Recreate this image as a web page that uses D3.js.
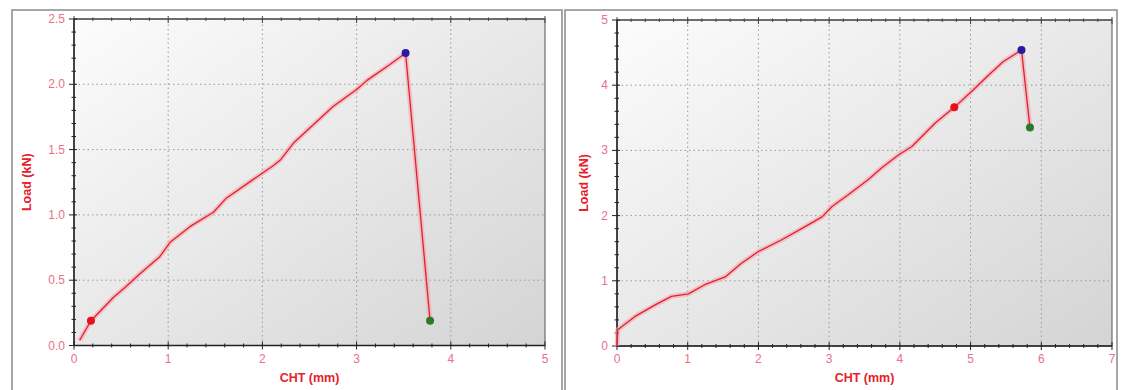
<!DOCTYPE html>
<html>
<head>
<meta charset="utf-8">
<script src="https://cdn.jsdelivr.net/npm/d3@7"></script>
<style>
  body { margin: 0; background: #fff; }
  text { font-family: "Liberation Sans", Arial, sans-serif; }
</style>
</head>
<body>
<svg id="chart" width="1129" height="390"></svg>
<script>
// left test: CHT (mm) vs Load (kN)
const leftCht = [0.06, 0.1, 0.14, 0.18, 0.3, 0.42, 0.55, 0.7, 0.91, 1.02, 1.23, 1.48, 1.62, 1.9, 2.12, 2.19, 2.33, 2.54, 2.75, 3.0, 3.11, 3.35, 3.52, 3.78]
const leftLoad = [0.04, 0.09, 0.14, 0.19, 0.28, 0.37, 0.45, 0.55, 0.68, 0.79, 0.91, 1.02, 1.13, 1.27, 1.38, 1.42, 1.55, 1.69, 1.83, 1.96, 2.03, 2.15, 2.24, 0.19]
const leftMarks = [[0.18, 0.19], [3.52, 2.24], [3.78, 0.19]]

// right test
const rightCht = [0.0, 0.01, 0.25, 0.54, 0.77, 1.01, 1.24, 1.53, 1.76, 2.0, 2.33, 2.61, 2.9, 3.04, 3.27, 3.55, 3.74, 3.98, 4.17, 4.5, 4.77, 5.04, 5.23, 5.46, 5.72, 5.84]
const rightLoad = [0.0, 0.25, 0.45, 0.63, 0.76, 0.8, 0.94, 1.06, 1.27, 1.45, 1.63, 1.8, 1.98, 2.14, 2.32, 2.55, 2.73, 2.93, 3.06, 3.42, 3.66, 3.93, 4.13, 4.36, 4.54, 3.35]
const rightMarks = [[4.77, 3.66], [5.72, 4.54], [5.84, 3.35]]

const leftYTicks = ['0.0', '0.5', '1.0', '1.5', '2.0', '2.5']
const rightYTicks = ['0', '1', '2', '3', '4', '5']

const markColors = ['#e8101c', '#2a1aa0', '#2a7a2a']
const lineColor = '#e3202a'
const labelColor = '#e8708c'
const titleColor = '#e8202a'

const svg = d3.select('#chart')

const defs = svg.append('defs')
const grad = defs.append('linearGradient')
  .attr('id', 'bg').attr('x1', 0).attr('y1', 0).attr('x2', 1).attr('y2', 1)
grad.append('stop').attr('offset', '0%').attr('stop-color', '#fcfcfc')
grad.append('stop').attr('offset', '100%').attr('stop-color', '#d4d4d4')

const drawPanel = (cfg) => {
  const g = svg.append('g')

  // outer frame
  g.append('rect')
    .attr('x', cfg.frame[0]).attr('y', cfg.frame[1])
    .attr('width', cfg.frame[2] - cfg.frame[0]).attr('height', 400)
    .attr('fill', '#fff').attr('stroke', '#8a8a8a').attr('stroke-width', 1.5)

  const x = d3.scaleLinear().domain([0, cfg.xMax]).range(cfg.xr)
  const y = d3.scaleLinear().domain([0, cfg.yMax]).range(cfg.yr)

  g.append('rect')
    .attr('x', cfg.xr[0]).attr('y', cfg.yr[1])
    .attr('width', cfg.xr[1] - cfg.xr[0]).attr('height', cfg.yr[0] - cfg.yr[1])
    .attr('fill', 'url(#bg)')

  const xMajor = d3.range(0, cfg.xMax + 0.001, 1)
  const yMajor = cfg.yTicks.map(Number)
  const xMinor = d3.range(0, cfg.xMax + 0.001, 0.2)
  const yMinor = d3.range(0, cfg.yMax + 0.001, cfg.yMinorStep)

  // dotted grid
  g.selectAll('.gx').data(xMajor.slice(1, -1)).enter().append('line')
    .attr('x1', d => x(d)).attr('x2', d => x(d))
    .attr('y1', cfg.yr[0]).attr('y2', cfg.yr[1])
    .attr('stroke', '#999').attr('stroke-dasharray', '1.5,3')
  g.selectAll('.gy').data(yMajor.slice(1, -1)).enter().append('line')
    .attr('y1', d => y(d)).attr('y2', d => y(d))
    .attr('x1', cfg.xr[0]).attr('x2', cfg.xr[1])
    .attr('stroke', '#999').attr('stroke-dasharray', '1.5,3')

  // plot border
  g.append('rect')
    .attr('x', cfg.xr[0]).attr('y', cfg.yr[1])
    .attr('width', cfg.xr[1] - cfg.xr[0]).attr('height', cfg.yr[0] - cfg.yr[1])
    .attr('fill', 'none').attr('stroke', '#555').attr('stroke-width', 1)

  // axis lines
  g.append('line').attr('x1', cfg.xr[0]).attr('x2', cfg.xr[1])
    .attr('y1', cfg.yr[0]).attr('y2', cfg.yr[0]).attr('stroke', '#222').attr('stroke-width', 1.5)
  g.append('line').attr('x1', cfg.xr[0]).attr('x2', cfg.xr[0])
    .attr('y1', cfg.yr[0]).attr('y2', cfg.yr[1]).attr('stroke', '#222').attr('stroke-width', 1.5)
  g.append('line').attr('x1', cfg.xr[0]).attr('x2', cfg.xr[1])
    .attr('y1', cfg.yr[1]).attr('y2', cfg.yr[1]).attr('stroke', '#333').attr('stroke-width', 1)

  const isMajor = v => Math.abs(v - Math.round(v)) < 0.001

  // x ticks bottom and top
  g.selectAll('.tx').data(xMinor).enter().append('line')
    .attr('x1', d => x(d)).attr('x2', d => x(d))
    .attr('y1', d => cfg.yr[0] - (isMajor(d) ? 4 : 2))
    .attr('y2', d => cfg.yr[0] + (isMajor(d) ? 4 : 2))
    .attr('stroke', '#222')
  g.selectAll('.tt').data(xMinor).enter().append('line')
    .attr('x1', d => x(d)).attr('x2', d => x(d))
    .attr('y1', d => cfg.yr[1] - (isMajor(d) ? 3 : 1.5))
    .attr('y2', d => cfg.yr[1] + (isMajor(d) ? 4 : 2))
    .attr('stroke', '#444')
  // y ticks
  const yMaj = v => yMajor.some(t => Math.abs(t - v) < 0.001)
  g.selectAll('.ty').data(yMinor).enter().append('line')
    .attr('y1', d => y(d)).attr('y2', d => y(d))
    .attr('x1', d => cfg.xr[0] - (yMaj(d) ? 5 : 2.5))
    .attr('x2', d => cfg.xr[0] + (yMaj(d) ? 3 : 2))
    .attr('stroke', '#222')

  // tick labels
  g.selectAll('.lx').data(xMajor).enter().append('text')
    .attr('x', d => x(d)).attr('y', cfg.yr[0] + 17)
    .attr('text-anchor', 'middle').attr('font-size', 12)
    .attr('fill', labelColor).text(d => d)
  g.selectAll('.ly').data(cfg.yTicks).enter().append('text')
    .attr('x', cfg.xr[0] - 9).attr('y', d => y(+d) + 4)
    .attr('text-anchor', 'end').attr('font-size', 12)
    .attr('fill', labelColor).text(d => d)

  // axis titles
  g.append('text')
    .attr('x', (cfg.xr[0] + cfg.xr[1]) / 2).attr('y', 382)
    .attr('text-anchor', 'middle').attr('font-size', 12.5).attr('font-weight', 'bold')
    .attr('fill', titleColor).text('CHT (mm)')
  g.append('text')
    .attr('transform', `translate(${cfg.titleX}, ${(cfg.yr[0] + cfg.yr[1]) / 2}) rotate(-90)`)
    .attr('text-anchor', 'middle').attr('font-size', 12.5).attr('font-weight', 'bold')
    .attr('fill', titleColor).text('Load (kN)')

  const pts = cfg.cx.map((v, i) => [v, cfg.ld[i]])
  const line = d3.line().x(d => x(d[0])).y(d => y(d[1]))

  // pink halo under the curve
  g.append('path').datum(pts).attr('d', line)
    .attr('fill', 'none').attr('stroke', '#f4a6b0').attr('stroke-width', 5)
    .attr('stroke-opacity', 0.6).attr('stroke-linejoin', 'round')
  g.append('path').datum(pts).attr('d', line)
    .attr('fill', 'none').attr('stroke', lineColor).attr('stroke-width', 1.3)
    .attr('stroke-linejoin', 'round')

  g.selectAll('.mk').data(cfg.marks).enter().append('circle')
    .attr('cx', d => x(d[0])).attr('cy', d => y(d[1])).attr('r', 4)
    .attr('fill', (d, i) => markColors[i])
}

drawPanel({
  frame: [12, 10, 562],
  xMax: 5, yMax: 2.5, yMinorStep: 0.1,
  xr: [74, 545], yr: [345.5, 19],
  yTicks: leftYTicks, titleX: 31,
  cx: leftCht, ld: leftLoad, marks: leftMarks
})

drawPanel({
  frame: [565, 10, 1117],
  xMax: 7, yMax: 5, yMinorStep: 0.2,
  xr: [617, 1112], yr: [346, 20],
  yTicks: rightYTicks, titleX: 588,
  cx: rightCht, ld: rightLoad, marks: rightMarks
})
</script>
</body>
</html>
